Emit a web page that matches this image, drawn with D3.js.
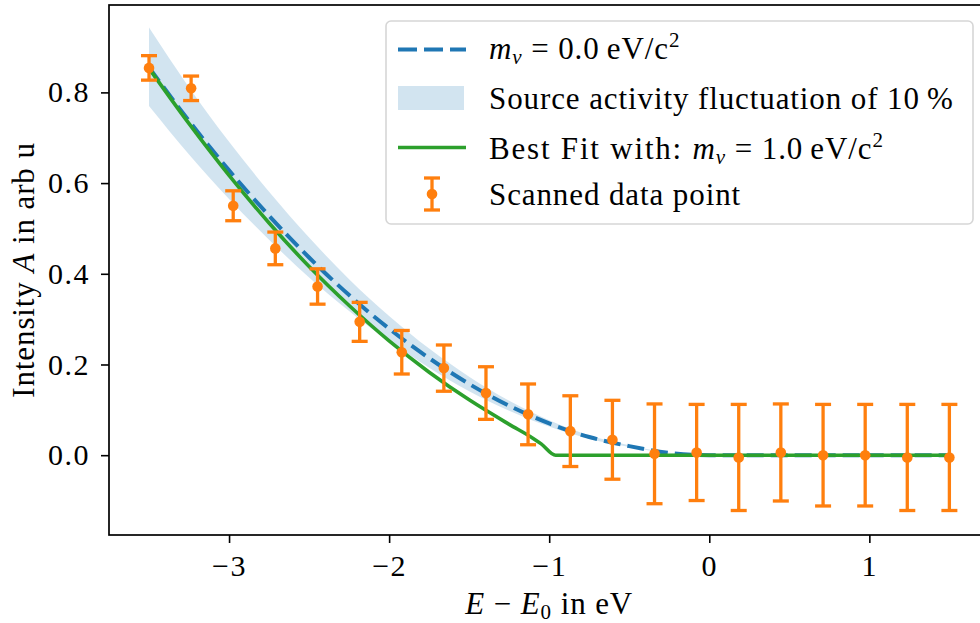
<!DOCTYPE html>
<html lang="en">
  <head>
    <meta charset="utf-8">
    <script src="https://d3js.org/d3.v7.min.js"></script>
    <style>
      body { margin: 0; background: #fff; }
      text { font-family: "Liberation Serif", "DejaVu Serif", serif; fill: #000; }
    </style>
  </head>
  <body>
    <svg width="980" height="623"></svg>
    <script>
      // scanned data points and their error bars
      var scanX = [-3.5, -3.237, -2.974, -2.711, -2.447, -2.184, -1.921, -1.658, -1.395, -1.132,
                   -0.868, -0.605, -0.342, -0.079, 0.184, 0.447, 0.711, 0.974, 1.237, 1.5];
      var scanY = [0.854, 0.809, 0.550, 0.456, 0.372, 0.294, 0.227, 0.192, 0.137, 0.090,
                   0.053, 0.034, 0.003, 0.006, -0.005, 0.006, 0.000, 0.000, -0.005, -0.005];
      var scanErr = [0.027, 0.027, 0.033, 0.036, 0.039, 0.043, 0.048, 0.051, 0.058, 0.067,
                     0.078, 0.087, 0.110, 0.106, 0.117, 0.107, 0.112, 0.112, 0.117, 0.117];

      // spectrum for m = 0 eV and the 10 % band around it
      var modelX = [-3.5, -3.25, -3.0, -2.75, -2.5, -2.25, -2.0, -1.75, -1.5, -1.25, -1.0,
                    -0.75, -0.5, -0.25, 0.0, 0.25, 0.5, 0.75, 1.0, 1.25, 1.5];
      var modelY = [0.855, 0.737, 0.628, 0.528, 0.436, 0.353, 0.279, 0.214, 0.157, 0.109, 0.070,
                    0.040, 0.020, 0.005, 0.000, 0, 0, 0, 0, 0, 0];
      var bandLow = [0.770, 0.663, 0.565, 0.475, 0.392, 0.318, 0.251, 0.193, 0.141, 0.098, 0.063,
                     0.036, 0.018, 0.0045, 0, 0, 0, 0, 0, 0, 0];
      var bandHigh = [0.943, 0.811, 0.691, 0.581, 0.480, 0.388, 0.307, 0.235, 0.173, 0.120, 0.077,
                      0.044, 0.022, 0.0055, 0, 0, 0, 0, 0, 0, 0];

      // best fit, m = 1 eV
      var fitX = [-3.5, -3.25, -3.0, -2.75, -2.5, -2.25, -2.0, -1.75, -1.5, -1.25, -1.1, -1.05,
                  -0.96, -0.5, 0.0, 0.5, 1.0, 1.5];
      var fitY = [0.853, 0.731, 0.617, 0.512, 0.416, 0.330, 0.252, 0.183, 0.122, 0.068, 0.037, 0.025,
                  0, 0, 0, 0, 0, 0];

      var xTicks = [-3, -2, -1, 0, 1];
      var yTicks = [0.0, 0.2, 0.4, 0.6, 0.8];

      var blue = "#1f77b4", orange = "#ff7f0e", green = "#2ca02c";
      var font = '"Liberation Serif", "DejaVu Serif", serif';

      var svg = d3.select("svg");
      var pLeft = 109, pRight = 989.4, pTop = 5, pBottom = 535;

      var x = d3.scaleLinear().domain([-3.75, 1.75]).range([pLeft, pRight]);
      var y = d3.scaleLinear().domain([-0.176, 0.9927]).range([pBottom, pTop]);

      //band of 10 % activity fluctuation
      var band = d3.area()
        .x(function (d, i) { return x(modelX[i]); })
        .y0(function (d, i) { return y(bandLow[i]); })
        .y1(function (d, i) { return y(bandHigh[i]); })
        .curve(d3.curveMonotoneX);
      svg.append("path")
        .datum(modelX)
        .attr("d", band)
        .attr("fill", blue)
        .attr("fill-opacity", 0.2);

      // m = 0 curve
      var line0 = d3.line()
        .x(function (d, i) { return x(modelX[i]); })
        .y(function (d, i) { return y(modelY[i]); })
        .curve(d3.curveMonotoneX);
      svg.append("path")
        .datum(modelX)
        .attr("d", line0)
        .attr("fill", "none")
        .attr("stroke", blue)
        .attr("stroke-width", 4)
        .attr("stroke-dasharray", "17,7");

      // best fit curve
      var line1 = d3.line()
        .x(function (d, i) { return x(fitX[i]); })
        .y(function (d, i) { return y(fitY[i]); })
        .curve(d3.curveMonotoneX);
      svg.append("path")
        .datum(fitX)
        .attr("d", line1)
        .attr("fill", "none")
        .attr("stroke", green)
        .attr("stroke-width", 3.6);

      //error bars
      var pts = svg.append("g").selectAll("g")
        .data(scanX)
        .enter()
        .append("g")
        .attr("stroke", orange)
        .attr("stroke-width", 3.3);
      pts.append("line")
        .attr("x1", function (d) { return x(d); })
        .attr("x2", function (d) { return x(d); })
        .attr("y1", function (d, i) { return y(scanY[i] - scanErr[i]); })
        .attr("y2", function (d, i) { return y(scanY[i] + scanErr[i]); });
      pts.append("line")
        .attr("x1", function (d) { return x(d) - 8; })
        .attr("x2", function (d) { return x(d) + 8; })
        .attr("y1", function (d, i) { return y(scanY[i] - scanErr[i]); })
        .attr("y2", function (d, i) { return y(scanY[i] - scanErr[i]); });
      pts.append("line")
        .attr("x1", function (d) { return x(d) - 8; })
        .attr("x2", function (d) { return x(d) + 8; })
        .attr("y1", function (d, i) { return y(scanY[i] + scanErr[i]); })
        .attr("y2", function (d, i) { return y(scanY[i] + scanErr[i]); });
      pts.append("circle")
        .attr("cx", function (d) { return x(d); })
        .attr("cy", function (d, i) { return y(scanY[i]); })
        .attr("r", 5.3)
        .attr("stroke", "none")
        .attr("fill", orange);

      // axes
      var gx = svg.append("g")
        .attr("transform", "translate(0," + pBottom + ")")
        .call(d3.axisBottom(x)
          .tickValues(xTicks)
          .tickSize(8)
          .tickPadding(12)
          .tickFormat(function (d) { return d < 0 ? "\u2212" + Math.abs(d) : d; }));
      var gy = svg.append("g")
        .attr("transform", "translate(" + pLeft + ",0)")
        .call(d3.axisLeft(y)
          .tickValues(yTicks)
          .tickSize(8)
          .tickPadding(11)
          .tickFormat(d3.format(".1f")));
      [gx, gy].forEach(function (g) {
        g.select(".domain").remove();
        g.attr("font-family", font).attr("font-size", 30);
        g.selectAll("line").attr("stroke", "#000").attr("stroke-width", 1.6);
        g.selectAll("text").attr("fill", "#000").attr("letter-spacing", 1.5);
      });

      // frame
      svg.append("rect")
        .attr("x", pLeft)
        .attr("y", pTop)
        .attr("width", pRight - pLeft)
        .attr("height", pBottom - pTop)
        .attr("fill", "none")
        .attr("stroke", "#000")
        .attr("stroke-width", 1.7);

      // axis labels
      var xl = svg.append("text")
        .attr("x", (pLeft + pRight) / 2)
        .attr("y", 614)
        .attr("text-anchor", "middle")
        .attr("font-size", 31)
        .attr("letter-spacing", 0.9);
      xl.append("tspan").attr("font-style", "italic").text("E");
      xl.append("tspan").text(" \u2212 ");
      xl.append("tspan").attr("font-style", "italic").text("E");
      xl.append("tspan").attr("font-size", 21).attr("dy", 5).text("0");
      xl.append("tspan").attr("dy", -5).text(" in eV");

      var yl = svg.append("text")
        .attr("transform", "translate(34," + (pTop + pBottom) / 2 + ") rotate(-90)")
        .attr("text-anchor", "middle")
        .attr("font-size", 31)
        .attr("letter-spacing", 0.9);
      yl.append("tspan").text("Intensity ");
      yl.append("tspan").attr("font-style", "italic").text("A");
      yl.append("tspan").text(" in arb u");

      // legend
      var lg = svg.append("g");
      lg.append("rect")
        .attr("x", 386)
        .attr("y", 21)
        .attr("width", 587)
        .attr("height", 203)
        .attr("rx", 5)
        .attr("fill", "#fff")
        .attr("fill-opacity", 0.8)
        .attr("stroke", "#d6d6d6")
        .attr("stroke-width", 1.6);

      lg.append("line")
        .attr("x1", 398).attr("x2", 466)
        .attr("y1", 49.5).attr("y2", 49.5)
        .attr("stroke", blue)
        .attr("stroke-width", 4)
        .attr("stroke-dasharray", "19,7");
      lg.append("rect")
        .attr("x", 398).attr("y", 86)
        .attr("width", 66).attr("height", 24)
        .attr("fill", blue)
        .attr("fill-opacity", 0.2);
      lg.append("line")
        .attr("x1", 398).attr("x2", 466)
        .attr("y1", 147.5).attr("y2", 147.5)
        .attr("stroke", green)
        .attr("stroke-width", 3.6);
      var eg = lg.append("g").attr("stroke", orange).attr("stroke-width", 3.3);
      eg.append("line").attr("x1", 432).attr("x2", 432).attr("y1", 178).attr("y2", 210);
      eg.append("line").attr("x1", 424).attr("x2", 440).attr("y1", 178).attr("y2", 178);
      eg.append("line").attr("x1", 424).attr("x2", 440).attr("y1", 210).attr("y2", 210);
      eg.append("circle").attr("cx", 432).attr("cy", 194).attr("r", 5.3)
        .attr("stroke", "none").attr("fill", orange);

      function massLabel(yPos, prefix, value) {
        var t = lg.append("text").attr("x", 489).attr("y", yPos)
          .attr("font-size", 31).attr("letter-spacing", 0.9);
        if (prefix) t.append("tspan").attr("letter-spacing", 1.8).text(prefix);
        t.append("tspan").attr("font-style", "italic").text("m");
        t.append("tspan").attr("font-style", "italic").attr("font-size", 21).attr("dy", 5).text("\u03bd");
        t.append("tspan").attr("dy", -5).text(" = " + value + "\u2009eV/c");
        t.append("tspan").attr("font-size", 21).attr("dy", -12).text("2");
      }
      massLabel(59, "", "0.0");
      lg.append("text").attr("x", 489).attr("y", 109).attr("font-size", 31)
        .attr("letter-spacing", 0.9)
        .text("Source activity fluctuation of 10\u2009%");
      massLabel(159, "Best Fit with: ", "1.0");
      lg.append("text").attr("x", 489).attr("y", 205).attr("font-size", 31)
        .attr("letter-spacing", 0.9)
        .text("Scanned data point");
    </script>
  </body>
</html>
